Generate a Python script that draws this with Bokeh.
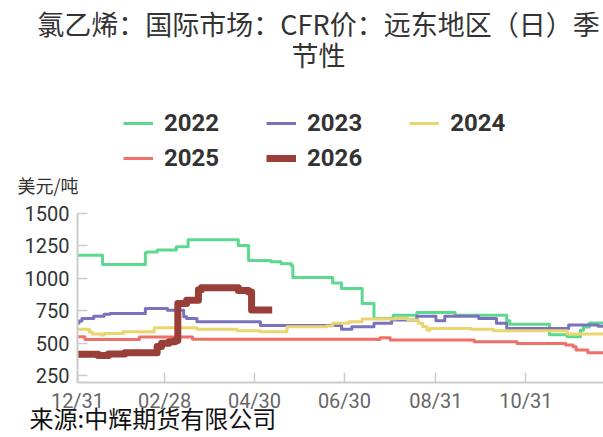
from bokeh.plotting import figure
from bokeh.models import FixedTicker, Label, Legend, LegendItem, Range1d
from bokeh.embed import file_html
from bokeh.resources import INLINE

# ---- data (day offset from 12/31, price USD/t) ----
tick_days = [0, 59, 120, 181, 243, 304]
tick_labels = ["12/31", "02/28", "04/30", "06/30", "08/31", "10/31"]
y_ticks = [250, 500, 750, 1000, 1250, 1500]

d2022 = [0, 17, 46, 47, 54, 67, 75, 109, 116, 131, 138, 145, 146, 173, 179, 193, 201, 214, 230, 256, 291, 293, 320, 332, 341, 343, 347, 357]
v2022 = [1175, 1105, 1195, 1200, 1215, 1240, 1295, 1250, 1135, 1125, 1110, 1095, 1005, 963, 920, 805, 690, 715, 736, 715, 672, 645, 565, 550, 600, 625, 655, 655]

d2023 = [0, 1, 3, 11, 18, 22, 46, 61, 72, 74, 81, 124, 179, 186, 201, 213, 230, 243, 249, 272, 284, 291, 333, 353, 357]
v2023 = [652, 670, 690, 707, 723, 728, 766, 753, 702, 690, 664, 635, 606, 626, 652, 677, 707, 672, 707, 690, 652, 613, 640, 630, 630]

d2024 = [0, 8, 10, 16, 18, 31, 52, 81, 108, 124, 142, 169, 173, 184, 193, 216, 224, 231, 234, 237, 239, 267, 282, 332, 357]
v2024 = [606, 585, 570, 562, 575, 587, 618, 606, 595, 587, 626, 631, 652, 665, 686, 690, 678, 652, 626, 600, 613, 606, 595, 570, 570]

d2025 = [0, 5, 42, 78, 203, 205, 212, 269, 298, 331, 336, 338, 346, 357]
v2025 = [549, 529, 547, 530, 529, 541, 524, 511, 498, 486, 473, 447, 427, 427]

d2026 = [0, 14, 21, 32, 54, 57, 62, 66, 68, 74, 82, 84, 109, 116, 118, 132]
v2026 = [415, 405, 416, 427, 475, 500, 511, 520, 805, 830, 910, 925, 905, 893, 755, 755]

years = ["2022", "2023", "2024", "2025", "2026"]
colors = ["#5cd98e", "#7b72bf", "#ecd46e", "#ee7068", "#9a3e39"]
widths = [3, 3, 3, 3, 7]

title1 = "氯乙烯：国际市场：CFR价：远东地区（日）季"
title2 = "节性"
unit = "美元/吨"
source = "来源:中辉期货有限公司"

# ---- layout: frame covers the whole canvas; axes are pinned inside it ----
W, H = 603, 437
X_START, X_END = 0, 356.6     # data x-span of the axes
Y_START, Y_END = 200, 1500    # data y-span of the axes
AX_L, AX_R = 77, 603          # pixel columns of x = X_START / X_END
AX_B, AX_T = 381.7, 212.5     # pixel rows of y = Y_START / Y_END
kx = (X_END - X_START) / (AX_R - AX_L)
ky = (Y_END - Y_START) / (AX_B - AX_T)
x_lo, x_hi = X_START - AX_L * kx, X_END + (W - AX_R) * kx
y_hi, y_lo = Y_END + AX_T * ky, Y_START - (H - AX_B) * ky

def dx(px):
    return x_lo + px * kx

def dy(py):
    return y_hi - py * ky

p = figure(width=W, height=H, output_backend="svg", toolbar_location=None,
           x_range=Range1d(x_lo, x_hi), y_range=Range1d(y_lo, y_hi),
           min_border=0)
p.outline_line_color = None
p.xgrid.grid_line_color = None
p.ygrid.grid_line_color = None
p.background_fill_color = "white"
p.border_fill_color = "white"

for ax in (p.xaxis[0], p.yaxis[0]):
    ax.axis_line_color = "#cccccc"
    ax.axis_line_width = 2
    ax.major_tick_line_color = "#cccccc"
    ax.major_tick_line_width = 1.5
    ax.major_tick_in = 10
    ax.major_tick_out = 0
    ax.minor_tick_line_color = None
    ax.major_label_text_font = "Roboto"
    ax.major_label_text_font_size = "20px"

p.xaxis.fixed_location = Y_START
p.xaxis.bounds = (X_START, X_END)
p.xaxis.ticker = FixedTicker(ticks=tick_days)
p.xaxis.major_label_overrides = {d: l for d, l in zip(tick_days, tick_labels)}
p.xaxis.major_label_text_color = "#666666"
p.xaxis.major_label_standoff = 7

p.yaxis.fixed_location = X_START
p.yaxis.bounds = (Y_START, Y_END)
p.yaxis.ticker = FixedTicker(ticks=y_ticks)
p.yaxis.major_label_text_color = "#333333"
p.yaxis.major_label_standoff = 8

series = [(d2022, v2022), (d2023, v2023), (d2024, v2024), (d2025, v2025), (d2026, v2026)]
renderers = []
for (xs, ys), c, w in zip(series, colors, widths):
    r = p.step(xs, ys, mode="after", line_color=c, line_width=w, line_join="round")
    renderers.append(r)

def make_legend(idx, left_px, center_py):
    items = [LegendItem(label=years[i], renderers=[renderers[i]]) for i in idx]
    lg = Legend(items=items, orientation="horizontal",
                location=(left_px, H - center_py - 14),
                padding=0, margin=0, spacing=47, label_standoff=11,
                glyph_width=30, glyph_height=28, label_height=28,
                label_text_font="Roboto", label_text_font_size="24px",
                label_text_font_style="bold", label_text_color="#333333",
                background_fill_alpha=0, border_line_alpha=0)
    p.add_layout(lg)

make_legend([0, 1, 2], 123, 123)
make_legend([3, 4], 123, 158)

def label(text, px, py, size, align="left", color="#333333"):
    p.add_layout(Label(x=dx(px), y=dy(py), text=text,
                       text_align=align, text_baseline="middle",
                       text_font="Noto Sans CJK SC", text_font_size=size,
                       text_color=color))

label(title1, 318, 23, "27px", "center")
label(title2, 318, 54, "27px", "center")
label(unit, 17, 184, "18px")
label(source, 29, 417, "24px", color="#111111")

open("out.html", "w").write(file_html(p, INLINE))
